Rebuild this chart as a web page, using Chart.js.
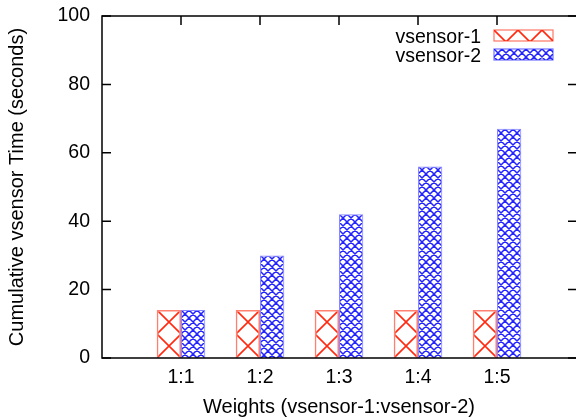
<!DOCTYPE html>
<html>
<head>
<meta charset="utf-8">
<title>Cumulative vsensor Time</title>
<script src="https://cdn.jsdelivr.net/npm/chart.js@4.4.1/dist/chart.umd.min.js"></script>
<style>
  html, body { margin: 0; padding: 0; background: #fff; }
  #wrap { width: 576px; height: 419px; }
</style>
</head>
<body>
<div id="wrap"><canvas id="cumChart" width="576" height="419"></canvas></div>
<script>
// valores
const categories = ['1:1', '1:2', '1:3', '1:4', '1:5'];
const seriesNames = ['vsensor-1', 'vsensor-2'];
const vsensor1 = [14, 14, 14, 14, 14];
const vsensor2 = [14, 30, 42, 56, 67];
const yTicks = [0, 20, 40, 60, 80, 100];

const FONT = "'Liberation Sans', Arial, Helvetica, sans-serif";
const RED = '#ff2a10';
const BLUE = '#2424ff';
const CAT_PCT = 0.615;
const TILE = 24;

// tile con rayado cruzado: n celdas por lado
// (las lineas se alargan fuera del tile para evitar cortes en las juntas)
function hatchTile(color, n, lineWidth) {
    const c = document.createElement('canvas');
    c.width = TILE;
    c.height = TILE;
    const g = c.getContext('2d');
    const cell = TILE / n;
    const e = 4;
    g.strokeStyle = color;
    g.lineWidth = lineWidth;
    g.beginPath();
    for (let i = -n; i <= 2 * n; i++) {
        const x0 = i * cell;
        g.moveTo(x0 - e, -e);
        g.lineTo(x0 + TILE + e, TILE + e);
        g.moveTo(x0 + e, -e);
        g.lineTo(x0 - TILE - e, TILE + e);
    }
    g.stroke();
    return c;
}

const redTile = hatchTile(RED, 1, 1.6);
const blueTile = hatchTile(BLUE, 3, 1.5);

// patron anclado a la esquina de cada barra
function barFill(tile) {
    return function (ctx) {
        const chart = ctx.chart;
        const pat = chart.ctx.createPattern(tile, 'repeat');
        const xs = chart.scales.x;
        const ys = chart.scales.y;
        if (ctx.type !== 'data' || !xs || !ys || !ctx.parsed) return pat;
        const step = xs.getPixelForValue(1) - xs.getPixelForValue(0);
        const bw = step * CAT_PCT / 2;
        const left = xs.getPixelForValue(ctx.parsed.x) - (ctx.datasetIndex === 0 ? bw : 0);
        const top = ys.getPixelForValue(ctx.parsed.y);
        if (!isFinite(left) || !isFinite(top)) return pat;
        pat.setTransform(new DOMMatrix().translate(Math.round(left), Math.round(top)));
        return pat;
    };
}

function toPoints(values) {
    return values.map((v, i) => ({ x: i, y: v }));
}

// marco, ticks hacia dentro y leyenda (estilo gnuplot)
const framePlugin = {
    id: 'frame',
    afterDatasetsDraw(chart) {
        const { ctx, chartArea: a, scales: { x, y } } = chart;
        ctx.save();
        ctx.strokeStyle = '#000';
        ctx.lineWidth = 1.5;
        // el lado derecho del marco queda fuera de la imagen
        ctx.beginPath();
        ctx.moveTo(a.right + 2, a.top);
        ctx.lineTo(a.left, a.top);
        ctx.lineTo(a.left, a.bottom);
        ctx.lineTo(a.right + 2, a.bottom);
        ctx.stroke();
        ctx.beginPath();
        yTicks.forEach(v => {
            const py = y.getPixelForValue(v);
            ctx.moveTo(a.left, py);
            ctx.lineTo(a.left + 9, py);
            ctx.moveTo(a.right + 1, py);
            ctx.lineTo(a.right - 8, py);
        });
        categories.forEach((c, i) => {
            const px = x.getPixelForValue(i);
            ctx.moveTo(px, a.top);
            ctx.lineTo(px, a.top + 9);
        });
        ctx.stroke();

        // leyenda
        const tiles = [redTile, blueTile];
        const borders = ['rgba(255,42,16,0.65)', 'rgba(36,36,255,0.65)'];
        ctx.font = '19.5px ' + FONT;
        ctx.fillStyle = '#000';
        ctx.textAlign = 'right';
        ctx.textBaseline = 'alphabetic';
        chart.data.datasets.forEach((ds, i) => {
            const base = 43 + i * 18.5;
            ctx.fillText(ds.label, 481, base);
            const bx = 494, by = Math.round(base - 13), bw = 59, bh = 11;
            const pat = ctx.createPattern(tiles[i], 'repeat');
            pat.setTransform(new DOMMatrix().translate(bx, by));
            ctx.fillStyle = pat;
            ctx.fillRect(bx, by, bw, bh);
            ctx.strokeStyle = borders[i];
            ctx.lineWidth = 1.2;
            ctx.strokeRect(bx, by, bw, bh);
            ctx.fillStyle = '#000';
        });
        ctx.restore();
    }
};

const chart = new Chart(document.getElementById('cumChart'), {
    type: 'bar',
    data: {
        datasets: [
            {
                label: seriesNames[0],
                data: toPoints(vsensor1),
                backgroundColor: barFill(redTile),
                borderColor: 'rgba(255,42,16,0.6)',
                borderWidth: 1.5
            },
            {
                label: seriesNames[1],
                data: toPoints(vsensor2),
                backgroundColor: barFill(blueTile),
                borderColor: 'rgba(36,36,255,0.55)',
                borderWidth: 1
            }
        ]
    },
    options: {
        responsive: false,
        animation: false,
        events: [],
        categoryPercentage: CAT_PCT,
        barPercentage: 1,
        layout: { padding: { top: 16, right: 0, left: 0, bottom: 0 } },
        plugins: {
            legend: { display: false },
            tooltip: { enabled: false }
        },
        scales: {
            x: {
                type: 'linear',
                min: -1,
                max: 5,
                offset: false,
                grid: { display: false, drawTicks: false },
                border: { display: false },
                afterBuildTicks: scale => {
                    scale.ticks = categories.map((c, i) => ({ value: i }));
                },
                afterFit: scale => {
                    scale.height = 61;
                    scale.paddingLeft = 0;
                    scale.paddingRight = 0;
                },
                ticks: {
                    color: '#000',
                    padding: 8,
                    maxRotation: 0,
                    font: { family: FONT, size: 19.5 },
                    callback: v => categories[v]
                },
                title: {
                    display: true,
                    text: 'Weights (vsensor-1:vsensor-2)',
                    color: '#000',
                    font: { family: FONT, size: 20 },
                    padding: { top: 0, bottom: 0 }
                }
            },
            y: {
                min: 0,
                max: 100,
                grid: { display: false, drawTicks: false },
                border: { display: false },
                afterBuildTicks: scale => {
                    scale.ticks = yTicks.map(v => ({ value: v }));
                },
                afterFit: scale => {
                    scale.width = 102;
                    scale.paddingTop = 0;
                    scale.paddingBottom = 0;
                },
                ticks: {
                    color: '#000',
                    padding: 12,
                    font: { family: FONT, size: 19.5 }
                },
                title: {
                    display: true,
                    text: 'Cumulative vsensor Time (seconds)',
                    color: '#000',
                    font: { family: FONT, size: 20 },
                    padding: { top: 5, bottom: 0 }
                }
            }
        }
    },
    plugins: [framePlugin]
});
</script>
</body>
</html>
